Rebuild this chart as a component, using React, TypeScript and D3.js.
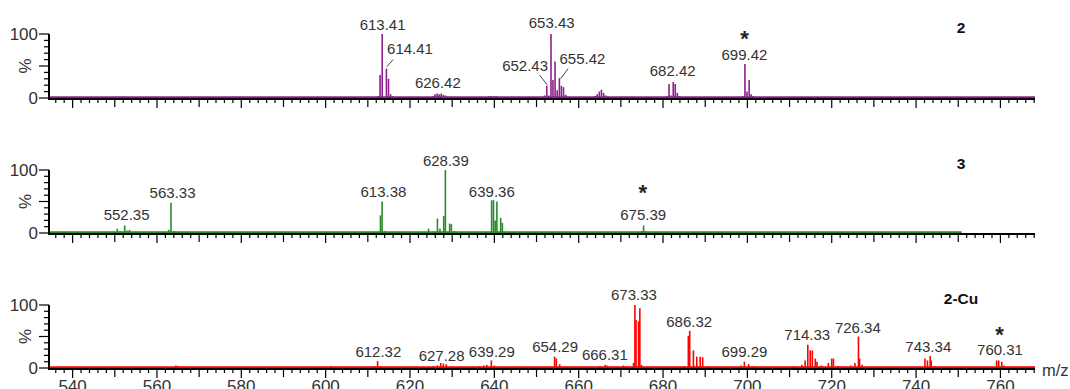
import { useEffect, useRef } from 'react';
import * as d3 from 'd3';

type Peak = [number, number];
type Label = [string, number, number];

// spectrum sticks: [m/z, relative intensity %]
const peaks2: Peak[] = [
  [541.5, 1], [551.2, 2], [551.8, 2], [552.5, 2], [553.3, 1], [578.0, 2], [578.8, 2], [579.6, 2], [580.4, 2],
  [605.8, 2], [608.0, 1],
  [612.4, 3], [612.9, 36], [613.41, 100], [614.41, 46], [614.9, 30], [615.4, 6], [615.9, 3],
  [625.4, 3], [625.9, 6], [626.42, 7], [626.9, 6], [627.4, 7], [627.9, 5], [628.4, 4], [628.9, 2],
  [638.8, 3], [639.3, 3], [639.8, 2], [640.4, 3], [644.2, 2], [645.7, 2], [647.5, 1],
  [651.9, 4], [652.43, 19], [652.9, 4], [653.43, 100], [653.9, 28], [654.4, 57], [654.9, 12], [655.42, 31],
  [655.9, 19], [656.4, 17], [656.9, 5], [657.4, 2],
  [663.9, 3], [664.4, 6], [664.9, 10], [665.4, 13], [665.9, 8], [666.4, 4], [666.9, 2],
  [669.8, 2], [671.2, 2], [672.6, 2], [675.5, 1],
  [680.9, 3], [681.42, 22], [681.9, 4], [682.42, 25], [682.9, 22], [683.4, 8], [683.9, 3],
  [698.9, 3], [699.42, 53], [699.9, 10], [700.42, 28], [700.9, 6], [701.4, 3],
];

const peaks3: Peak[] = [
  [538.5, 1], [539.3, 1], [547.8, 2], [549.6, 2], [550.6, 7], [551.3, 3], [552.35, 12], [552.9, 4], [553.5, 5], [555.0, 1],
  [562.8, 5], [563.33, 48], [563.9, 3], [564.5, 2], [583.0, 1], [598.0, 1],
  [612.8, 2], [613.0, 28], [613.38, 50], [614.0, 3],
  [624.4, 7], [625.5, 2], [626.5, 23], [627.1, 7], [628.0, 27], [628.39, 100], [629.4, 15], [629.8, 14], [630.6, 3],
  [639.36, 52], [639.8, 52], [640.2, 20], [640.6, 50], [641.5, 24], [641.9, 16], [644.6, 2],
  [657.6, 2], [675.0, 3], [675.39, 12], [675.9, 3], [700.0, 1], [721.0, 1], [735.0, 1],
];

const peaks2Cu: Peak[] = [
  [537, 2], [538.5, 2], [540, 2], [541.5, 2], [545, 1], [551, 2], [552, 2], [553.5, 2], [558, 1],
  [564.5, 4], [565, 3], [566.5, 2], [571.5, 2], [573, 2], [577.5, 2], [582, 1], [588, 2], [590.5, 2],
  [592, 2], [596, 2], [599, 2], [601.3, 3], [602.5, 2], [604.5, 2], [608, 2],
  [610.5, 2], [611.5, 3], [612.32, 11], [613, 3], [614.5, 2], [616, 2], [618, 1],
  [621, 2], [623, 2], [624.5, 2], [625.5, 3], [626.5, 4], [627.28, 8], [627.9, 7], [628.6, 6], [630, 2], [632, 2],
  [635, 2], [636.5, 3], [637.5, 4], [638.2, 5], [639.29, 12], [640, 4], [642, 2], [645, 2], [648, 1], [650, 2],
  [653, 2], [654.29, 18], [654.7, 15], [655.5, 6], [657, 2], [659, 2], [661, 2], [663, 2], [665, 3],
  [666.31, 5], [666.8, 4], [668, 2], [670.6, 4], [671.5, 3], [673.0, 8],
  [673.33, 100], [673.6, 76], [674.2, 74], [674.5, 95], [674.9, 5], [676, 2], [678, 2], [680, 2], [682, 2], [683.5, 2], [685, 3],
  [686.0, 51], [686.32, 59], [687.2, 28], [688.0, 18], [688.8, 18], [689.4, 17], [690.5, 3], [692, 2], [694, 2], [696, 2],
  [698.5, 4], [699.29, 10], [700.3, 6], [701.5, 3], [703, 2], [705, 2], [707, 2], [709, 2], [711, 3],
  [712.9, 5], [713.7, 12], [714.33, 37], [714.9, 28], [715.4, 28], [716.1, 15], [716.5, 10], [717.5, 4],
  [719.2, 8], [720.0, 15], [720.4, 15], [721.5, 3], [723, 2], [724.5, 4], [725.5, 8], [726.34, 50], [726.6, 15],
  [727.2, 5], [729, 2], [731, 2], [733, 2], [735, 2], [737, 2], [739, 2],
  [742.1, 15], [742.7, 12], [743.34, 19], [743.6, 12], [744.5, 3], [746, 2], [748, 2], [750, 2], [752, 2],
  [754, 2], [756, 2], [758, 2], [759.1, 12], [759.6, 12], [760.31, 10], [760.8, 4], [762.5, 2], [764, 2], [766, 1],
];

// peak annotations: [text, m/z position, level in %]
const labels2: Label[] = [
  ['613.41', 613.5, 106], ['614.41', 620.0, 69], ['626.42', 626.6, 16], ['652.43', 647.3, 42],
  ['653.43', 653.6, 109], ['655.42', 660.9, 53], ['682.42', 682.3, 34], ['699.42', 699.3, 59],
];
const labels3: Label[] = [
  ['552.35', 552.8, 21], ['563.33', 563.7, 55], ['613.38', 613.7, 57], ['628.39', 628.5, 106],
  ['639.36', 639.4, 57], ['675.39', 675.3, 21],
];
const labels2Cu: Label[] = [
  ['612.32', 612.5, 18], ['627.28', 627.5, 11], ['639.29', 639.4, 18], ['654.29', 654.4, 25],
  ['666.31', 666.2, 13], ['673.33', 673.1, 108], ['686.32', 686.2, 65], ['699.29', 699.3, 18],
  ['714.33', 714.2, 44], ['726.34', 726.2, 55], ['743.34', 742.9, 25], ['760.31', 759.9, 21],
];
// leader lines [mz1, level1, mz2, level2]
const leaders2: [number, number, number, number][] = [
  [614.5, 49, 616.0, 60], [650.7, 36, 652.6, 20], [657.5, 46, 655.7, 30],
];
// asterisk markers [m/z, level]
const stars: [number, number][] = [[699.3, 82], [675.2, 53], [759.8, 42]];

const panelNames = ['2', '3', '2-Cu'];
const panelColors = ['#8c1f8c', '#2a8a2a', '#ff0000'];
const xTickLabels = d3.range(540, 761, 20);

const FONT = 'Liberation Sans, Arial, sans-serif';

export default function App() {
  const svgRef = useRef<SVGSVGElement>(null);

  useEffect(() => {
    if (!svgRef.current) return;
    const svg = d3.select(svgRef.current);
    svg.selectAll('*').remove();

    const xScale = d3.scaleLinear().domain([534.4, 768.2]).range([49, 1035]);
    const panels = [
      { top: 34, bottom: 98, peaks: peaks2, labels: labels2, end: 768.2 },
      { top: 170, bottom: 233, peaks: peaks3, labels: labels3, end: 750.8 },
      { top: 305, bottom: 368, peaks: peaks2Cu, labels: labels2Cu, end: 768.2 },
    ];

    panels.forEach((p, i) => {
      const color = panelColors[i];
      const yScale = d3.scaleLinear().domain([0, 100]).range([p.bottom, p.top]);
      const g = svg.append('g');

      // spectrum baseline
      g.append('line')
        .attr('x1', xScale(534.4)).attr('x2', xScale(p.end))
        .attr('y1', p.bottom - 0.8).attr('y2', p.bottom - 0.8)
        .attr('stroke', color).attr('stroke-width', 2);

      g.selectAll('.stick')
        .data(p.peaks)
        .enter()
        .append('line')
        .attr('x1', d => xScale(d[0])).attr('x2', d => xScale(d[0]))
        .attr('y1', p.bottom).attr('y2', d => yScale(d[1]))
        .attr('stroke', color).attr('stroke-width', 1.6);

      // x axis
      const axisY = p.bottom + 1;
      g.append('line')
        .attr('x1', 49).attr('x2', 1035)
        .attr('y1', axisY).attr('y2', axisY)
        .attr('stroke', '#000').attr('stroke-width', 2);
      g.selectAll('.xtick')
        .data(d3.range(536, 769, 2))
        .enter()
        .append('line')
        .attr('x1', d => xScale(d)).attr('x2', d => xScale(d))
        .attr('y1', axisY)
        .attr('y2', d => axisY + (d % 20 === 0 ? 9 : d % 10 === 0 ? 8 : 4))
        .attr('stroke', '#000').attr('stroke-width', 1.2);

      // y axis
      g.append('line')
        .attr('x1', 49).attr('x2', 49)
        .attr('y1', yScale(100)).attr('y2', axisY + 1)
        .attr('stroke', '#000').attr('stroke-width', 2);
      g.selectAll('.ytick')
        .data(d3.range(0, 101, 10))
        .enter()
        .append('line')
        .attr('x1', d => (d % 50 === 0 ? 39 : 44)).attr('x2', 49)
        .attr('y1', d => yScale(d)).attr('y2', d => yScale(d))
        .attr('stroke', '#000').attr('stroke-width', 1.2);
      g.selectAll('.ylab')
        .data([0, 100])
        .enter()
        .append('text')
        .attr('x', 38)
        .attr('y', d => yScale(d) + 6)
        .attr('text-anchor', 'end')
        .attr('font-family', FONT).attr('font-size', 17).attr('fill', '#333')
        .text(d => d);
      g.append('text')
        .attr('transform', `translate(31,${(p.top + p.bottom) / 2}) rotate(-90)`)
        .attr('text-anchor', 'middle')
        .attr('font-family', FONT).attr('font-size', 17).attr('fill', '#333')
        .text('%');

      // peak labels
      g.selectAll('.plab')
        .data(p.labels)
        .enter()
        .append('text')
        .attr('x', d => xScale(d[1]))
        .attr('y', d => yScale(d[2]))
        .attr('text-anchor', 'middle')
        .attr('font-family', FONT).attr('font-size', 15).attr('fill', '#333')
        .text(d => d[0]);

      // asterisk
      g.append('text')
        .attr('x', xScale(stars[i][0]))
        .attr('y', yScale(stars[i][1]))
        .attr('text-anchor', 'middle')
        .attr('font-family', FONT).attr('font-size', 22).attr('font-weight', 'bold').attr('fill', '#222')
        .text('*');

      // panel name
      g.append('text')
        .attr('x', 961)
        .attr('y', p.top - 1.5)
        .attr('text-anchor', 'middle')
        .attr('font-family', FONT).attr('font-size', 15.5).attr('font-weight', 'bold').attr('fill', '#111')
        .text(panelNames[i]);

      if (i === 0) {
        g.selectAll('.leader')
          .data(leaders2)
          .enter()
          .append('line')
          .attr('x1', d => xScale(d[0])).attr('y1', d => yScale(d[1]))
          .attr('x2', d => xScale(d[2])).attr('y2', d => yScale(d[3]))
          .attr('stroke', '#444').attr('stroke-width', 1);
      }

      if (i === 2) {
        g.selectAll('.xlab')
          .data(xTickLabels)
          .enter()
          .append('text')
          .attr('x', d => xScale(d))
          .attr('y', 392)
          .attr('text-anchor', 'middle')
          .attr('font-family', FONT).attr('font-size', 17).attr('fill', '#333')
          .text(d => d);
        g.append('text')
          .attr('x', 1042)
          .attr('y', 376)
          .attr('font-family', FONT).attr('font-size', 16.5).attr('fill', '#333')
          .text('m/z');
      }
    });
  }, []);

  return (
    <svg
      ref={svgRef}
      width={1070}
      height={389}
      style={{ position: 'absolute', left: 0, top: 0, background: '#fff' }}
    />
  );
}
